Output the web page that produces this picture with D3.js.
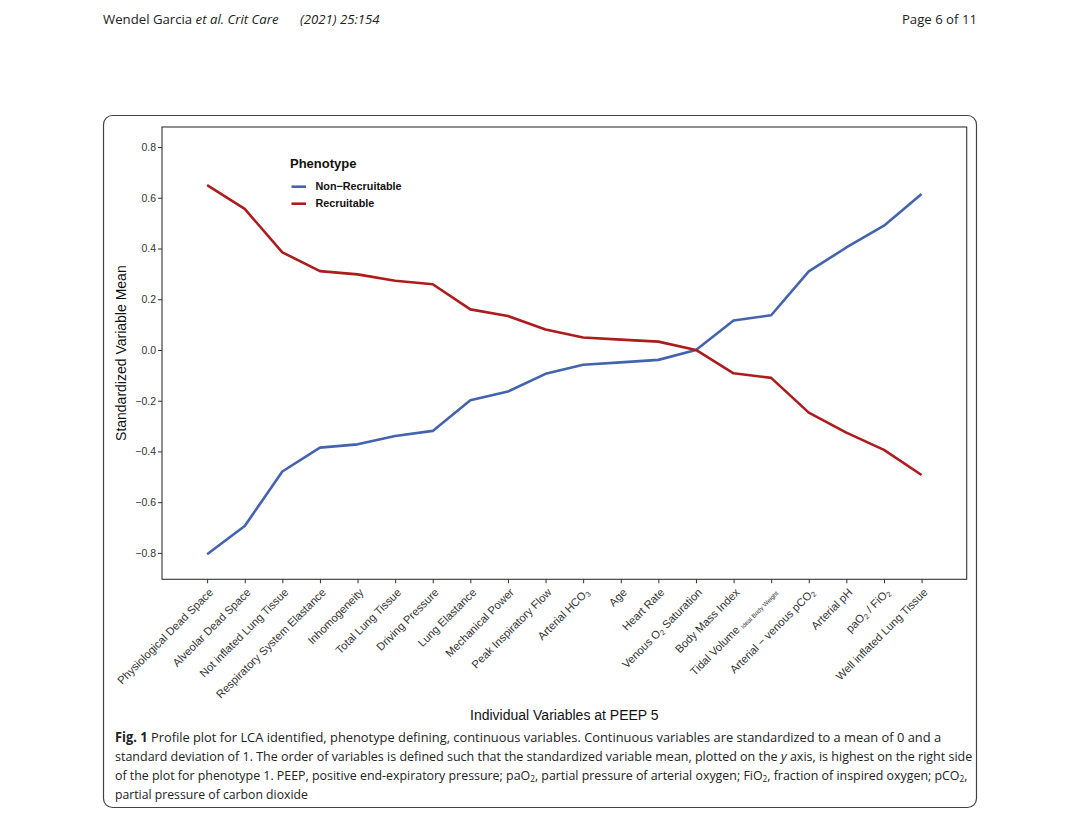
<!DOCTYPE html>
<html><head><meta charset="utf-8">
<script src="https://cdn.jsdelivr.net/npm/d3@7"></script>
<style>
body{margin:0;background:#fff;}
svg{display:block;}
</style></head>
<body>
<svg id="c" width="1080" height="823"></svg>
<script>
const categories = ["Physiological Dead Space","Alveolar Dead Space","Not inflated Lung Tissue","Respiratory System Elastance","Inhomogeneity","Total Lung Tissue","Driving Pressure","Lung Elastance","Mechanical Power","Peak Inspiratory Flow","Arterial HCO3","Age","Heart Rate","Venous O2 Saturation","Body Mass Index","Tidal Volume Ideal Body Weight","Arterial \u2212 venous pCO2","Arterial pH","paO2 / FiO2","Well inflated Lung Tissue"];
const nonRecruitable = [-0.805,-0.694,-0.479,-0.385,-0.372,-0.339,-0.319,-0.198,-0.164,-0.094,-0.058,-0.049,-0.039,0.000,0.116,0.137,0.310,0.404,0.490,0.615];
const recruitable = [0.650,0.556,0.385,0.311,0.298,0.273,0.259,0.160,0.134,0.081,0.049,0.041,0.033,0.000,-0.092,-0.110,-0.247,-0.326,-0.394,-0.493];
const seriesNames = ["Non\u2212Recruitable","Recruitable"];
const yTicks = [-0.8,-0.6,-0.4,-0.2,0.0,0.2,0.4,0.6,0.8];
const yDomain = [-0.904, 0.879];

// rich label parts for subscripts
const richLabels = {
  "Arterial HCO3": [["Arterial HCO",""],["3","sub"]],
  "Venous O2 Saturation": [["Venous O",""],["2","sub"],[" Saturation",""]],
  "Tidal Volume Ideal Body Weight": [["Tidal Volume ",""],["Ideal Body Weight","small"]],
  "Arterial \u2212 venous pCO2": [["Arterial \u2212 venous pCO",""],["2","sub"]],
  "paO2 / FiO2": [["paO",""],["2","sub"],[" / FiO",""],["2","sub"]]
};

const svg = d3.select("#c");
const FONT = "'Liberation Sans', Arial, sans-serif";
const CAP = "'Liberation Sans Narrow', 'Open Sans', sans-serif";

// page header
svg.append("text").attr("x",103).attr("y",24).attr("font-family",CAP).attr("font-size",13.2).attr("fill","#222")
  .call(t=>{t.append("tspan").text("Wendel Garcia ");t.append("tspan").attr("font-style","italic").text("et al. Crit Care");
    t.append("tspan").attr("x",300).attr("font-style","italic").text("(2021) 25:154");});
svg.append("text").attr("x",977).attr("y",24).attr("text-anchor","end").attr("font-family",CAP).attr("font-size",13.2).attr("fill","#222").text("Page 6 of 11");

// frame
svg.append("rect").attr("x",103.5).attr("y",115.5).attr("width",873).attr("height",692).attr("rx",9)
  .attr("fill","none").attr("stroke","#444").attr("stroke-width",1.2);

const pL=162, pR=966.7, pT=127, pB=579.3;
const x = d3.scalePoint().domain(categories).range([pL,pR]).padding(1.2);
const y = d3.scaleLinear().domain(yDomain).range([pB,pT]);

// y axis
const ya = svg.append("g").attr("transform",`translate(${pL},0)`)
  .call(d3.axisLeft(y).tickValues(yTicks).tickFormat(d=>d3.format(".1f")(d).replace("-","\u2212")).tickSize(4).tickSizeOuter(0));
ya.select(".domain").remove();
ya.selectAll("line").attr("stroke","#333");
ya.selectAll("text").attr("font-family",FONT).attr("font-size",10.5).attr("fill","#333").attr("x",-6);

// x axis
const xa = svg.append("g").attr("transform",`translate(0,${pB})`)
  .call(d3.axisBottom(x).tickSize(4).tickSizeOuter(0));
xa.select(".domain").remove();
xa.selectAll("line").attr("stroke","#333");
xa.selectAll("text").remove();
xa.selectAll(".tick").each(function(d){
  const t = d3.select(this).append("text")
    .attr("transform","translate(3.5,11) rotate(-45)")
    .attr("text-anchor","end").attr("dy","0.35em")
    .attr("font-family",FONT).attr("font-size",11.2).attr("fill","#333");
  const parts = richLabels[d];
  if(!parts){ t.text(d); return; }
  parts.forEach(([s,kind])=>{
    const sp = t.append("tspan").text(s);
    if(kind==="sub") sp.attr("font-size",7.5).attr("baseline-shift","-25%");
    if(kind==="small") sp.attr("font-size",6.2).attr("baseline-shift","-10%");
  });
});

// panel border
svg.append("rect").attr("x",pL).attr("y",pT).attr("width",pR-pL).attr("height",pB-pT)
  .attr("fill","none").attr("stroke","#333").attr("stroke-width",1.1);

// lines
const colors = ["#4463AF","#AD1C1C"];
const series = [nonRecruitable, recruitable];
const line = d3.line().x((d,i)=>x(categories[i])).y(d=>y(d));
series.forEach((s,k)=>{
  svg.append("path").datum(s).attr("d",line).attr("fill","none").attr("stroke",colors[k])
    .attr("stroke-width",2.6).attr("stroke-linejoin","round");
});

// legend
const lg = svg.append("g").attr("transform","translate(290,0)");
lg.append("text").attr("x",0).attr("y",167.5).attr("font-family",FONT).attr("font-weight","bold").attr("font-size",13).attr("fill","#111").text("Phenotype");
seriesNames.forEach((n,k)=>{
  const yy = 186.7 + k*17;
  lg.append("line").attr("x1",1.5).attr("x2",16).attr("y1",yy).attr("y2",yy).attr("stroke",colors[k]).attr("stroke-width",2.6);
  lg.append("text").attr("x",25.5).attr("y",yy).attr("dy","0.35em").attr("font-family",FONT).attr("font-weight","bold").attr("font-size",10.8).attr("fill","#111").text(n);
});

// axis titles
svg.append("text").attr("transform",`translate(126,${(pT+pB)/2}) rotate(-90)`).attr("text-anchor","middle")
  .attr("font-family",FONT).attr("font-size",14).attr("fill","#111").text("Standardized Variable Mean");
svg.append("text").attr("x",(pL+pR)/2).attr("y",720).attr("text-anchor","middle")
  .attr("font-family",FONT).attr("font-size",14).attr("fill","#111").text("Individual Variables at PEEP 5");

// caption
const capLines = [
  {y:742, w:827, parts:[["Fig. 1","b"],["  Profile plot for LCA identified, phenotype defining, continuous variables. Continuous variables are standardized to a mean of 0 and a",""]]},
  {y:761, w:858, parts:[["standard deviation of 1. The order of variables is defined such that the standardized variable mean, plotted on the ",""],["y","i"],[" axis, is highest on the right side",""]]},
  {y:780, w:853, parts:[["of the plot for phenotype 1. PEEP, positive end-expiratory pressure; paO",""],["2","s"],[", partial pressure of arterial oxygen; FiO",""],["2","s"],[", fraction of inspired oxygen; pCO",""],["2","s"],[",",""]]},
  {y:799, w:193, parts:[["partial pressure of carbon dioxide",""]]}
];
capLines.forEach(L=>{
  const t = svg.append("text").attr("x",115).attr("y",L.y).attr("font-family",CAP).attr("font-size",13.5).attr("fill","#222");
  L.parts.forEach(([s,k])=>{
    const sp = t.append("tspan").text(s);
    if(k==="b") sp.attr("font-weight","bold");
    if(k==="i") sp.attr("font-style","italic");
    if(k==="s") sp.attr("font-size",9).attr("baseline-shift","-25%");
  });
  const w = t.node().getBBox().width;
  const sx = L.w / w;
  t.attr("transform",`translate(115,0) scale(${sx},1) translate(-115,0)`);
});
</script>
</body></html>
